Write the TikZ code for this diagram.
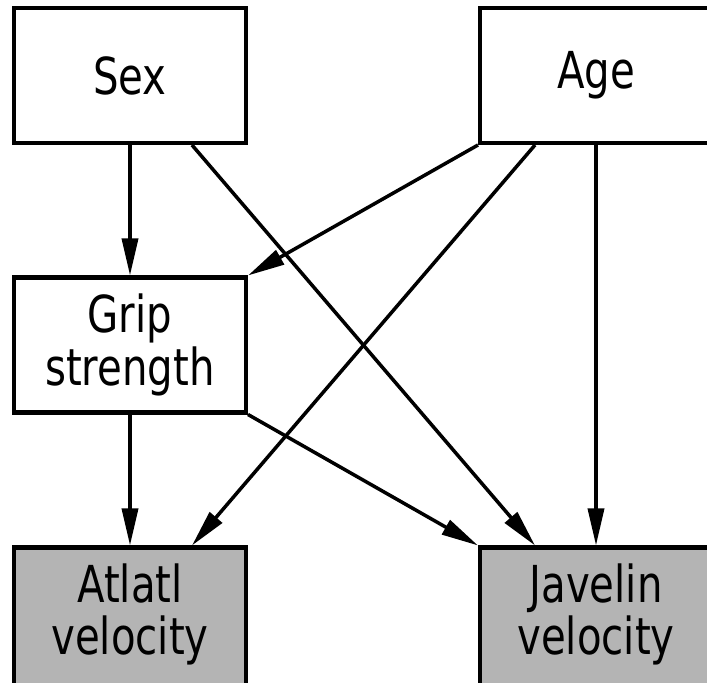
\documentclass[tikz,border=0pt]{standalone}
\usepackage{fontspec}
\setmainfont[FakeStretch=0.79]{DejaVu Sans}
\usetikzlibrary{arrows.meta}

\begin{document}
\begin{tikzpicture}[
  var/.style={draw, line width=2.3pt, minimum width=4.64cm, minimum height=2.7cm,
    inner sep=0pt, align=center, font=\fontsize{29}{30}\selectfont},
  outcome/.style={var, fill=grayfill, minimum height=2.9cm, text depth=0.44cm},
  path/.style={line width=2pt, -{Triangle[length=7.4mm,width=3.2mm]}}]

\definecolor{grayfill}{RGB}{180,180,180}

\useasboundingbox (0,0.05) rectangle (14.14,13.69);

\node[var] (sex) at (2.6,12.18) {Sex};

\node[var] (age) at (11.92,12.18) {Age};

\node[var] (grip) at (2.6,6.79) {Grip\\strength};

\node[outcome] (atlatl) at (2.6,1.29) {Atlatl\\velocity};

\node[outcome] (javelin) at (11.92,1.29) {Javelin\\velocity};

\draw[path] (sex.south) -- (grip.north);

\draw[path] ([xshift=1.24cm]sex.south) -- ([xshift=-1.22cm]javelin.north);

\draw[path] (age.south west) -- (grip.north east);

\draw[path] ([xshift=-1.22cm]age.south) -- ([xshift=1.24cm]atlatl.north);

\draw[path] (age.south) -- (javelin.north);

\draw[path] (grip.south) -- (atlatl.north);

\draw[path] (grip.south east) -- (javelin.north west);

\end{tikzpicture}
\end{document}
